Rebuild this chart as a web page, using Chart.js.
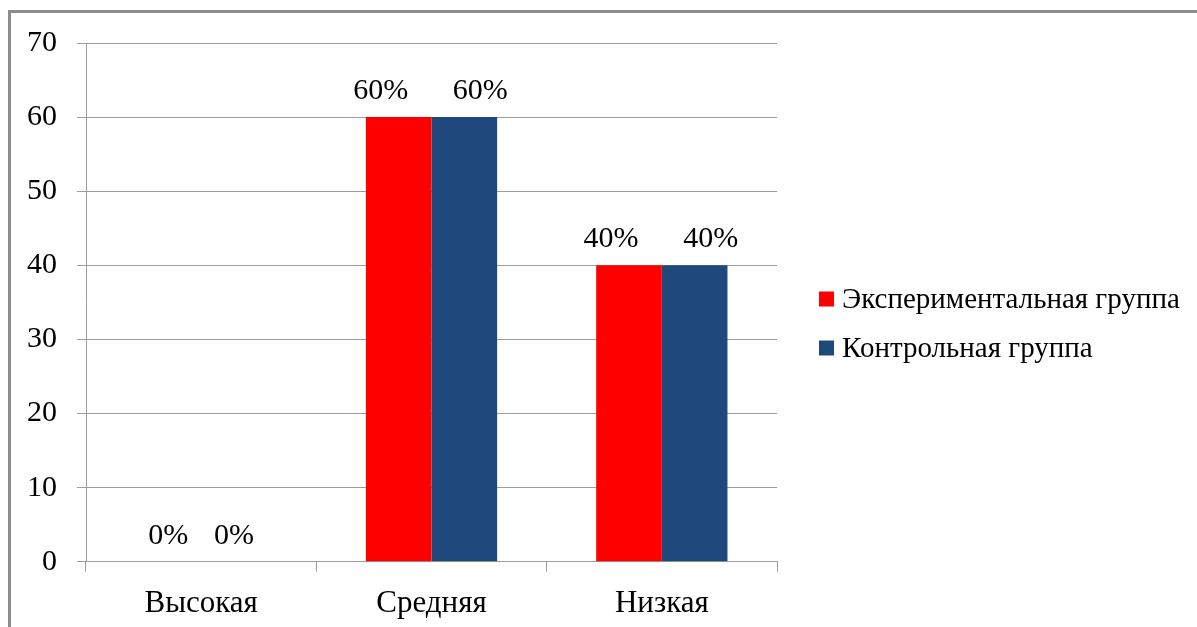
<!DOCTYPE html>
<html>
<head>
<meta charset="utf-8">
<script src="https://cdn.jsdelivr.net/npm/chart.js@4.4.0/dist/chart.umd.min.js"></script>
<style>
  html, body { margin: 0; padding: 0; background: #fff; overflow: hidden; }
  #frame { position: absolute; left: 8px; top: 10px; width: 1400px; height: 900px;
           border-left: 3px solid #8c8c8c; border-top: 3px solid #8c8c8c; }
  #c { position: absolute; left: 0; top: 0; }
</style>
</head>
<body>
<div id="frame"></div>
<canvas id="c" width="1197" height="641"></canvas>
<script>
const categories = ['Высокая', 'Средняя', 'Низкая'];
const seriesNames = ['Экспериментальная группа', 'Контрольная группа'];
const experimentalValues = [0, 60, 40];
const controlValues = [0, 60, 40];
const yTicks = [0, 10, 20, 30, 40, 50, 60, 70];

const FONT = "'Liberation Serif', 'Times New Roman', serif";
const colors = ['#FF0000', '#1F497D'];
const labelShift = [-18, 16];

const dataLabels = {
  id: 'dataLabels',
  afterDatasetsDraw(chart) {
    const ctx = chart.ctx;
    ctx.save();
    ctx.font = '30px ' + FONT;
    ctx.fillStyle = '#000';
    ctx.textAlign = 'center';
    ctx.textBaseline = 'alphabetic';
    chart.data.datasets.forEach((ds, di) => {
      const meta = chart.getDatasetMeta(di);
      meta.data.forEach((el, i) => {
        const v = ds.data[i];
        const dx = v > 0 ? labelShift[di] : 0;
        ctx.fillText(v + '%', el.x + dx, el.y - 18);
      });
    });
    ctx.restore();
  }
};

const sideLegend = {
  id: 'sideLegend',
  afterDraw(chart) {
    const ctx = chart.ctx;
    ctx.save();
    ctx.font = '29px ' + FONT;
    ctx.textBaseline = 'middle';
    ctx.textAlign = 'left';
    const x0 = chart.chartArea.right + 42;
    const y0 = 299;
    chart.data.datasets.forEach((ds, di) => {
      const cy = y0 + di * 49;
      ctx.fillStyle = ds.backgroundColor;
      ctx.fillRect(x0, cy - 7.5, 15, 15);
      ctx.fillStyle = '#000';
      ctx.fillText(ds.label, x0 + 23, cy + 1);
    });
    ctx.restore();
  }
};

new Chart(document.getElementById('c'), {
  type: 'bar',
  data: {
    labels: categories,
    datasets: [
      { label: seriesNames[0], data: experimentalValues, backgroundColor: colors[0] },
      { label: seriesNames[1], data: controlValues, backgroundColor: colors[1] }
    ]
  },
  options: {
    responsive: false,
    animation: false,
    devicePixelRatio: 1,
    layout: { padding: { left: 7, top: 43, right: 420, bottom: 6 } },
    datasets: { bar: { categoryPercentage: 0.57, barPercentage: 1.0 } },
    plugins: { legend: { display: false }, tooltip: { enabled: false } },
    scales: {
      x: {
        grid: { display: true, drawOnChartArea: false, drawTicks: true, tickLength: 10, color: '#9d9d9d', offset: true },
        border: { display: true, color: '#9d9d9d' },
        ticks: { color: '#000', font: { family: FONT, size: 31 }, padding: 13 }
      },
      y: {
        min: 0, max: 70,
        afterBuildTicks(scale) { scale.ticks = yTicks.map(v => ({ value: v })); },
        grid: { color: '#9d9d9d', tickLength: 9, drawTicks: true },
        border: { display: true, color: '#9d9d9d' },
        ticks: { color: '#000', font: { family: FONT, size: 30 }, padding: 20 }
      }
    }
  },
  plugins: [dataLabels, sideLegend]
});
</script>
</body>
</html>
